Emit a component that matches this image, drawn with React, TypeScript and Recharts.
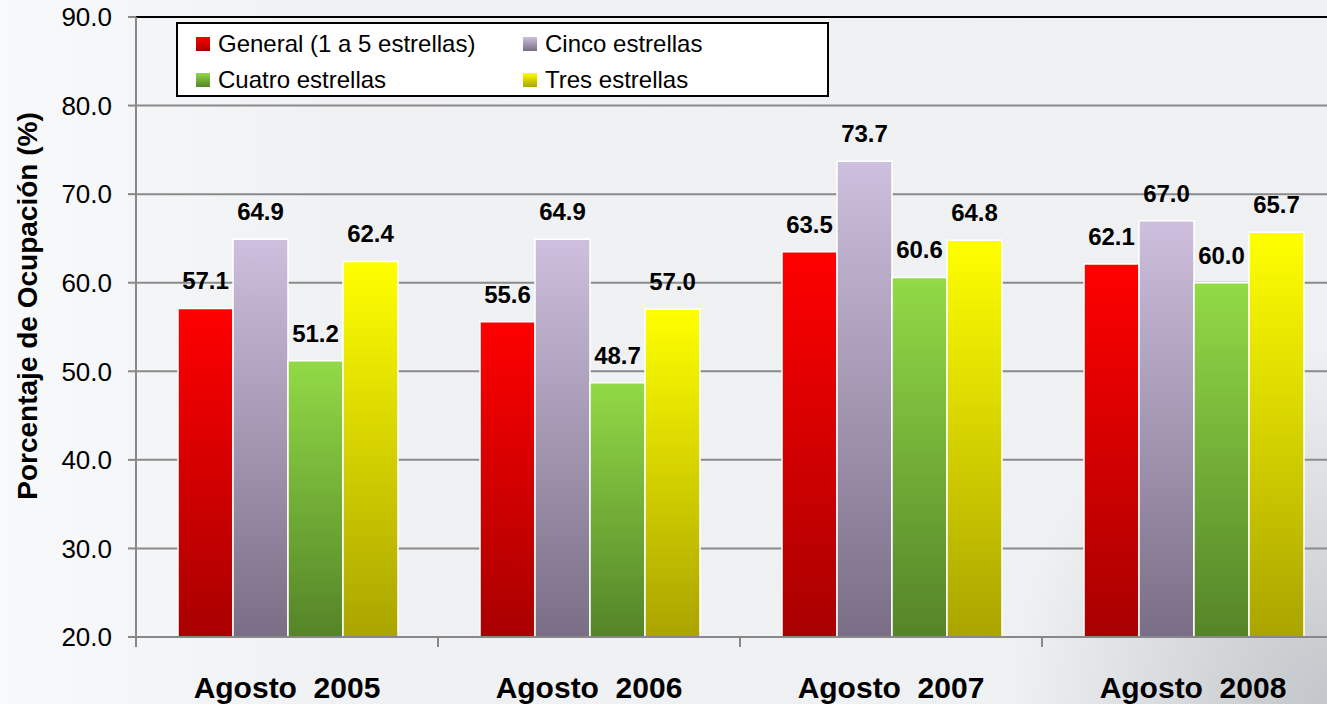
import React from 'react'
import { BarChart, Bar, XAxis, YAxis, CartesianGrid, Legend, LabelList, ReferenceLine } from 'recharts'

const categories = ['Agosto  2005', 'Agosto  2006', 'Agosto  2007', 'Agosto  2008']
const general = [57.1, 55.6, 63.5, 62.1]
const cinco = [64.9, 64.9, 73.7, 67.0]
const cuatro = [51.2, 48.7, 60.6, 60.0]
const tres = [62.4, 57.0, 64.8, 65.7]
const yTicks = [20, 30, 40, 50, 60, 70, 80, 90]

const data = categories.map((name, i) => ({
  name,
  general: general[i],
  cinco: cinco[i],
  cuatro: cuatro[i],
  tres: tres[i],
}))

const series = [
  { key: 'general', name: 'General (1 a 5 estrellas)', top: '#ff0000', bottom: '#a80000' },
  { key: 'cinco', name: 'Cinco estrellas', top: '#cdbfdd', bottom: '#7a6e86' },
  { key: 'cuatro', name: 'Cuatro estrellas', top: '#92da46', bottom: '#548428' },
  { key: 'tres', name: 'Tres estrellas', top: '#ffff00', bottom: '#aaa400' },
]

const FONT = '"Liberation Sans", Arial, sans-serif'

function XTick(props: any) {
  const { x, y, payload } = props
  const half = payload?.offset ?? 151
  return (
    <g>
      <line x1={x - half} y1={y} x2={x - half} y2={y + 10} stroke="#888" strokeWidth={2} />
      <text
        x={x}
        y={y + 61}
        textAnchor="middle"
        style={{ whiteSpace: 'pre' }}
        fontFamily={FONT}
        fontWeight="bold"
        fontSize={30}
        fill="#000"
      >
        {payload.value}
      </text>
    </g>
  )
}

// legend keeps the series order (General, Cinco / Cuatro, Tres)
function LegendBox() {
  return (
    <div
      style={{
        width: 653,
        height: 75,
        boxSizing: 'border-box',
        border: '2px solid #000',
        background: '#fff',
        position: 'relative',
        fontFamily: FONT,
        fontSize: 24,
        color: '#000',
      }}
    >
      {series.map((s, i) => {
        const col = i % 2
        const row = Math.floor(i / 2)
        return (
          <div
            key={s.key}
            style={{
              position: 'absolute',
              left: col === 0 ? 18 : 345,
              top: row === 0 ? 6 : 42,
              display: 'flex',
              alignItems: 'center',
              height: 28,
              whiteSpace: 'nowrap',
            }}
          >
            <span
              style={{
                display: 'inline-block',
                width: 14,
                height: 14,
                marginRight: 8,
                background: `linear-gradient(${s.top}, ${s.bottom})`,
              }}
            />
            {s.name}
          </div>
        )
      })}
    </div>
  )
}

export default function App() {
  return (
    <div
      style={{
        position: 'fixed',
        left: 0,
        top: 0,
        width: 1327,
        height: 704,
        overflow: 'hidden',
        background:
          'radial-gradient(ellipse 320px 360px at 1330px 710px, rgba(150,155,160,0.5), rgba(150,155,160,0) 100%), linear-gradient(90deg, #f8f9fa 0%, #f0f1f3 25%, #eef0f2 100%)',
      }}
    >
      <BarChart
        width={1350}
        height={704}
        data={data}
        margin={{ top: 17, right: 6, left: 0, bottom: 7 }}
        barCategoryGap={42}
        barGap={0}
      >
        <defs>
          {series.map((s) => (
            <linearGradient key={s.key} id={`grad-${s.key}`} x1="0" y1="0" x2="0" y2="1">
              <stop offset="0%" stopColor={s.top} />
              <stop offset="100%" stopColor={s.bottom} />
            </linearGradient>
          ))}
        </defs>
        <CartesianGrid vertical={false} stroke="#8a8a8a" strokeWidth={2} />
        <XAxis
          dataKey="name"
          height={60}
          tickLine={false}
          tickSize={0}
          tickMargin={0}
          interval={0}
          stroke="#888"
          strokeWidth={2}
          tick={<XTick />}
        />
        <YAxis
          width={136}
          domain={[20, 90]}
          ticks={yTicks}
          interval={0}
          allowDataOverflow
          tickFormatter={(v: number) => v.toFixed(1)}
          tickSize={8}
          tickMargin={16}
          stroke="#888"
          strokeWidth={2}
          tick={{ fill: '#000', fontSize: 26, fontFamily: FONT }}
          label={() => (
            <text
              x={37}
              y={306}
              transform="rotate(-90 37 306)"
              textAnchor="middle"
              fontFamily={FONT}
              fontWeight="bold"
              fontSize={28}
              fill="#000"
            >
              Porcentaje de Ocupación (%)
            </text>
          )}
        />
        <ReferenceLine y={90} stroke="#000" strokeWidth={2} />
        <Legend
          layout="horizontal"
          verticalAlign="middle"
          align="center"
          wrapperStyle={{ top: 22, left: 176, width: 653, height: 75 }}
          content={<LegendBox />}
        />
        {series.map((s) => (
          <Bar
            key={s.key}
            dataKey={s.key}
            name={s.name}
            fill={`url(#grad-${s.key})`}
            stroke="#fff"
            strokeWidth={1.5}
            isAnimationActive={false}
          >
            <LabelList
              dataKey={s.key}
              position="top"
              offset={19}
              formatter={(v: any) => Number(v).toFixed(1)}
              style={{ fontFamily: FONT, fontWeight: 'bold', fontSize: 24, fill: '#000' }}
            />
          </Bar>
        ))}
      </BarChart>
    </div>
  )
}
